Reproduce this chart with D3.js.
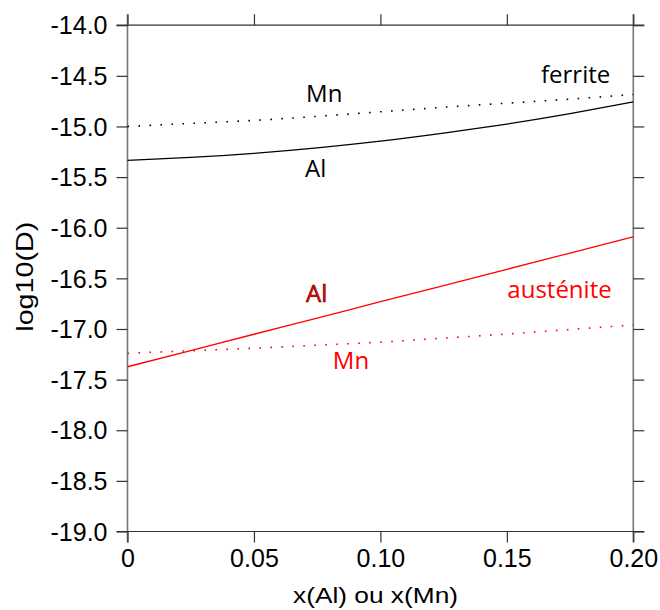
<!DOCTYPE html>
<html>
<head>
<meta charset="utf-8">
<script src="https://cdn.jsdelivr.net/npm/d3@7"></script>
<style>
  html, body { margin: 0; padding: 0; background: #fff; }
  svg { display: block; }
</style>
</head>
<body>
<svg id="chart" width="660" height="610"></svg>
<script>
// ---- data ----
const xValues = [0, 0.025, 0.05, 0.075, 0.1, 0.125, 0.15, 0.175, 0.2];
const ferriteAl = [-15.335, -15.306, -15.265, -15.211, -15.145, -15.066, -14.976, -14.873, -14.757];
const ferriteMn = [-15.0, -14.97, -14.94, -14.9, -14.855, -14.81, -14.77, -14.73, -14.684];
const austeniteAl = [-17.373, -17.213, -17.052, -16.892, -16.731, -16.571, -16.411, -16.25, -16.09];
const austeniteMn = [-17.24, -17.215, -17.19, -17.16, -17.13, -17.09, -17.05, -17.005, -16.96];
const xTicks = [0, 0.05, 0.10, 0.15, 0.20];
const xTickLabels = ["0", "0.05", "0.10", "0.15", "0.20"];
const yTicks = [-14, -14.5, -15, -15.5, -16, -16.5, -17, -17.5, -18, -18.5, -19];
const yTickLabels = ["-14.0", "-14.5", "-15.0", "-15.5", "-16.0", "-16.5", "-17.0", "-17.5", "-18.0", "-18.5", "-19.0"];
const labelTexts = ["Mn", "Al", "ferrite", "Al", "Mn", "austénite"];
const xTitle = "x(Al) ou x(Mn)";
const yTitle = "log10(D)";

// ---- layout ----
const L = 127.5, R = 633.3, T = 25.2, B = 531.5, TK = 11;
const x = d3.scaleLinear().domain([0, 0.2]).range([L, R]);
const y = d3.scaleLinear().domain([-19, -14]).range([B, T]);
const svg = d3.select("#chart");

// frame
const axisColV = "#777", axisColH = "#333";
svg.append("line").attr("x1", L).attr("x2", L).attr("y1", T - TK).attr("y2", B + TK)
  .attr("stroke", axisColV).attr("stroke-width", 1.6);
svg.append("line").attr("x1", R).attr("x2", R).attr("y1", T - TK).attr("y2", B + TK)
  .attr("stroke", axisColV).attr("stroke-width", 1.6);
svg.append("line").attr("x1", L - TK).attr("x2", R + TK).attr("y1", T).attr("y2", T)
  .attr("stroke", axisColH).attr("stroke-width", 1.2);
svg.append("line").attr("x1", L - TK).attr("x2", R + TK).attr("y1", B).attr("y2", B)
  .attr("stroke", axisColH).attr("stroke-width", 1.2);

// axes with d3 axis generators
const fontTick = "'Liberation Sans', Arial, sans-serif";
const yAxis = d3.axisLeft(y).tickValues(yTicks).tickSize(TK).tickPadding(9)
  .tickFormat((d, i) => yTickLabels[i]);
const gy = svg.append("g").attr("transform", `translate(${L},0)`).call(yAxis);
const yAxisR = d3.axisRight(y).tickValues(yTicks).tickSize(TK).tickFormat("");
const gyr = svg.append("g").attr("transform", `translate(${R},0)`).call(yAxisR);
const xAxis = d3.axisBottom(x).tickValues(xTicks).tickSize(TK).tickPadding(7)
  .tickFormat((d, i) => xTickLabels[i]);
const gx = svg.append("g").attr("transform", `translate(0,${B})`).call(xAxis);
const xAxisT = d3.axisTop(x).tickValues(xTicks).tickSize(TK).tickFormat("");
const gxt = svg.append("g").attr("transform", `translate(0,${T})`).call(xAxisT);

[gy, gyr, gx, gxt].forEach(g => {
  g.select(".domain").remove();
  g.selectAll(".tick line").attr("stroke", "#333").attr("stroke-width", 1.2);
  g.selectAll("text").attr("font-family", fontTick).attr("font-size", 25).attr("fill", "#000");
});
gy.selectAll("text").attr("dy", "0.35em");
gx.selectAll("text").attr("dy", "0.71em");

// series
const line = d3.line().x(d => x(d[0])).y(d => y(d[1])).curve(d3.curveNatural);
const zip = arr => xValues.map((v, i) => [v, arr[i]]);
const series = [
  { v: ferriteMn, color: "#000", dash: "1.6,9.4" },
  { v: ferriteAl, color: "#000", dash: null },
  { v: austeniteMn, color: "#ff0000", dash: "1.6,9.4" },
  { v: austeniteAl, color: "#ff0000", dash: null }
];
series.forEach(s => {
  const p = svg.append("path").attr("d", line(zip(s.v))).attr("fill", "none")
    .attr("stroke", s.color).attr("stroke-width", s.dash ? 1.6 : 1.3);
  if (s.dash) p.attr("stroke-dasharray", s.dash);
});

// annotations
const fontLab = "'Open Sans', sans-serif";
const labelPos = [
  [0.0706, -14.755, "#000", null],
  [0.0702, -15.496, "#000", null],
  [0.1635, -14.568, "#000", null],
  [0.0706, -16.73, "#ff0000", "#4a0000"],
  [0.0812, -17.395, "#ff0000", null],
  [0.1502, -16.69, "#ff0000", null]
];
labelPos.forEach((p, i) => {
  const t = svg.append("text").attr("x", x(p[0])).attr("y", y(p[1]))
    .attr("font-family", fontLab).attr("font-size", 24).attr("fill", p[2])
    .text(labelTexts[i]);
  if (p[3]) t.attr("stroke", p[3]).attr("stroke-width", 0.6);
});

// titles
svg.append("text").attr("x", 375.5).attr("y", 603).attr("text-anchor", "middle")
  .attr("font-family", fontTick).attr("font-size", 22)
  .attr("textLength", 165).attr("lengthAdjust", "spacingAndGlyphs")
  .text(xTitle);
svg.append("text").attr("transform", "translate(33,276.7) rotate(-90)")
  .attr("text-anchor", "middle")
  .attr("font-family", fontTick).attr("font-size", 24)
  .attr("textLength", 110).attr("lengthAdjust", "spacingAndGlyphs")
  .text(yTitle);
</script>
</body>
</html>
